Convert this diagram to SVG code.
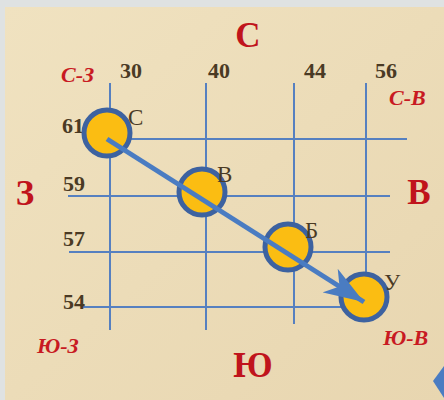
<svg xmlns="http://www.w3.org/2000/svg" width="444" height="400" viewBox="0 0 444 400">
<defs>
<linearGradient id="bg" x1="0" y1="0" x2="1" y2="1">
<stop offset="0" stop-color="#f0e2c0"/>
<stop offset="1" stop-color="#e8d6b0"/>
</linearGradient>
<marker id="ah" viewBox="0 0 42 30" refX="40" refY="15" markerWidth="42" markerHeight="30" markerUnits="userSpaceOnUse" orient="auto">
<path d="M0,1 L40,15 L0,29 L11,15 Z" fill="#4a7cc2"/>
</marker>
<style>
.grid{stroke:#5680c0;stroke-width:2;fill:none}
.num{font-family:"Liberation Serif",serif;font-weight:bold;font-size:22px;fill:#4a3a24}
.dir{font-family:"Liberation Serif",serif;font-weight:bold;font-size:35px;fill:#c0141c}
.idir{font-family:"Liberation Serif",serif;font-weight:bold;font-style:italic;font-size:22px;fill:#c81a22}
.pt{fill:#fbbd12;stroke:#3d62a0;stroke-width:5}
.lbl{font-family:"Liberation Serif",serif;font-size:23px;fill:#4a3a24}
</style>
</defs>
<rect width="444" height="400" fill="#dfe2e2"/>
<rect x="5" y="7" width="439" height="393" fill="url(#bg)"/>
<polygon points="433,381 444,366 444,398" fill="#4a7cc2"/>
<g id="grid">
<line class="grid" x1="110" y1="83" x2="110" y2="330"/>
<line class="grid" x1="206" y1="83" x2="206" y2="330"/>
<line class="grid" x1="294" y1="83" x2="294" y2="324"/>
<line class="grid" x1="366" y1="83" x2="366" y2="290"/>
<line class="grid" x1="100" y1="139" x2="407" y2="139"/>
<line class="grid" x1="68" y1="196" x2="390" y2="196"/>
<line class="grid" x1="69" y1="252" x2="390" y2="252"/>
<line class="grid" x1="83" y1="307" x2="370" y2="307"/>
</g>
<g id="labels">
<text class="num" x="120" y="78">30</text>
<text class="num" x="208" y="78">40</text>
<text class="num" x="304" y="78">44</text>
<text class="num" x="375" y="78">56</text>
<text class="num" x="62" y="133">61</text>
<text class="num" x="63" y="191">59</text>
<text class="num" x="63" y="246">57</text>
<text class="num" x="63" y="309">54</text>
<text class="dir" x="248" y="47" text-anchor="middle">С</text>
<text class="dir" x="25" y="205" text-anchor="middle">З</text>
<text class="dir" x="419" y="204" text-anchor="middle">В</text>
<text class="dir" x="253" y="377" text-anchor="middle">Ю</text>
<text class="idir" x="61" y="82">С-З</text>
<text class="idir" x="389" y="105">С-В</text>
<text class="idir" x="37" y="353">Ю-З</text>
<text class="idir" x="383" y="345">Ю-В</text>
</g>
<g id="point-C">
<circle class="pt" cx="107" cy="133" r="23"/>
<text class="lbl" x="128" y="125">С</text>
</g>
<g id="point-V">
<circle class="pt" cx="202" cy="192" r="23"/>
<text class="lbl" x="217" y="182">В</text>
</g>
<g id="point-B">
<circle class="pt" cx="288" cy="247" r="23"/>
<text class="lbl" x="305" y="238">Б</text>
</g>
<g id="point-U">
<circle class="pt" cx="364" cy="297" r="23"/>
<text class="lbl" x="384" y="290">У</text>
</g>
<g id="connectors">
<line x1="107" y1="139" x2="364" y2="302" stroke="#4a7cc2" stroke-width="5" marker-end="url(#ah)"/>
</g>
</svg>
